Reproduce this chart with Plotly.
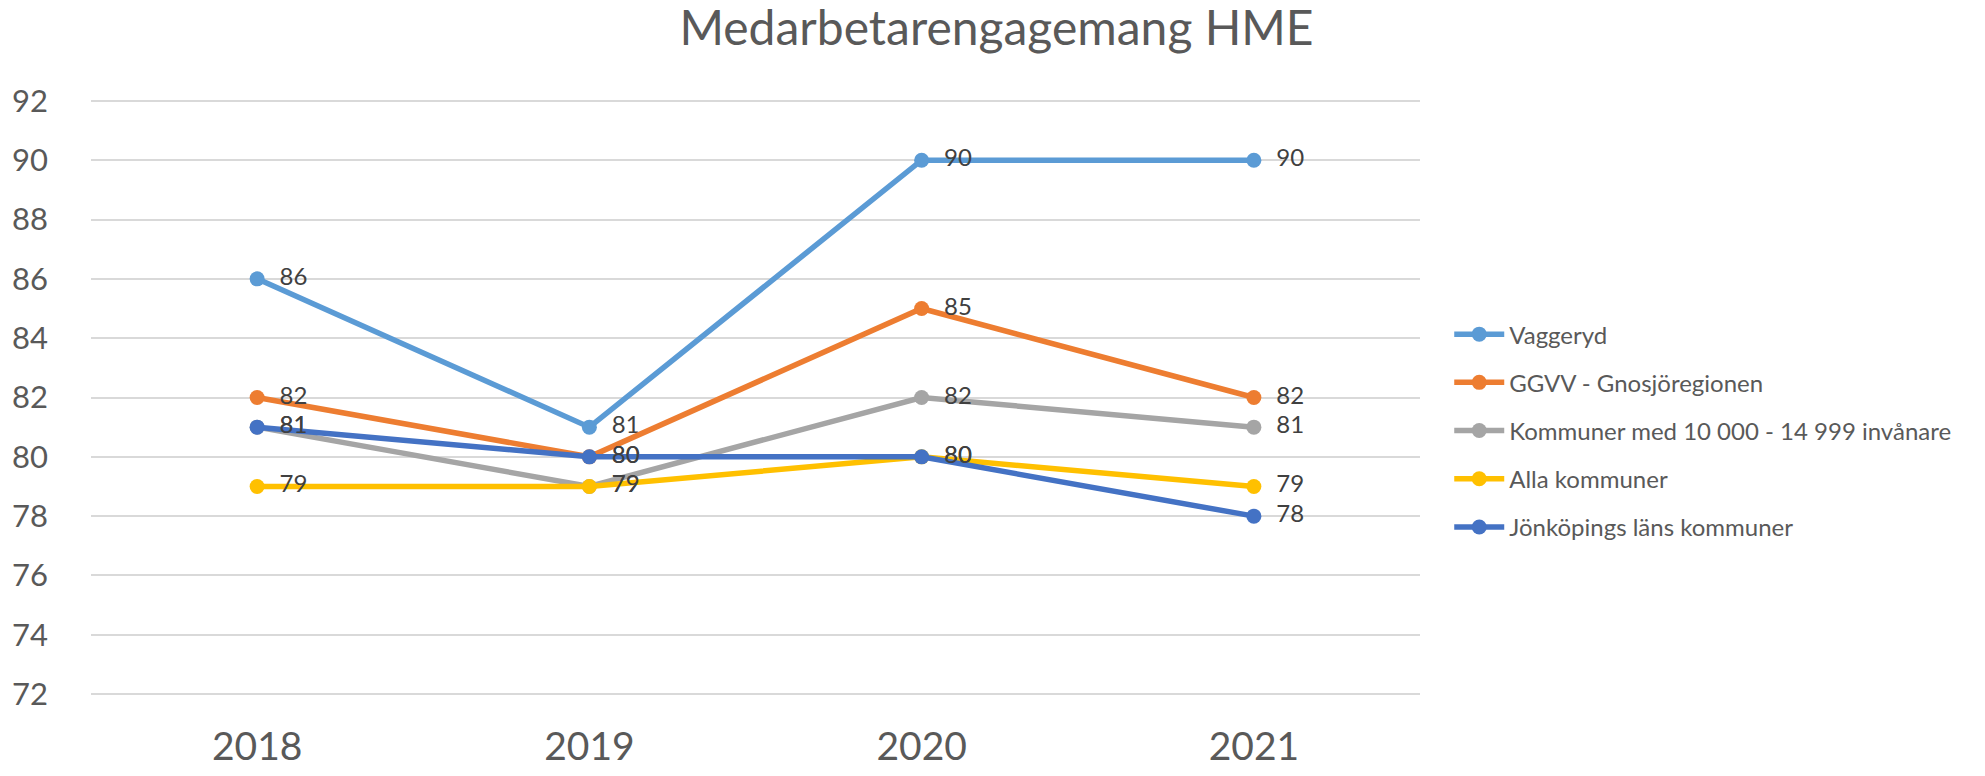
import plotly.graph_objects as go

years = ["2018", "2019", "2020", "2021"]
vaggeryd = [86, 81, 90, 90]
ggvv = [82, 80, 85, 82]
kommuner_10_15 = [81, 79, 82, 81]
alla_kommuner = [79, 79, 80, 79]
jonkoping = [81, 80, 80, 78]

series = [
    ("Vaggeryd", vaggeryd, "#5B9BD5"),
    ("GGVV - Gnosjöregionen", ggvv, "#ED7D31"),
    ("Kommuner med 10 000 - 14 999 invånare", kommuner_10_15, "#A5A5A5"),
    ("Alla kommuner", alla_kommuner, "#FFC000"),
    ("Jönköpings läns kommuner", jonkoping, "#4472C4"),
]

FONT = "Lato, 'Open Sans', sans-serif"

fig = go.Figure()
for i, (name, vals, col) in enumerate(series):
    fig.add_trace(go.Scatter(
        x=years, y=vals, name=name, mode="lines+markers+text",
        line=dict(color=col, width=5.5),
        marker=dict(color=col, size=15),
        text=["\u2002" + str(v) for v in vals], textposition="middle right",
        textfont=dict(size=24, color="#404040", family=FONT),
        legendgroup=f"g{i}",
    ))

fig.update_layout(
    width=1985, height=776,
    paper_bgcolor="white", plot_bgcolor="white",
    margin=dict(l=83, r=573, t=89, b=86),
    font=dict(family=FONT, color="#595959"),
    title=dict(text="Medarbetarengagemang HME", x=0.498, xanchor="center",
               y=0.996, yanchor="top", font=dict(size=48, color="#595959", family=FONT)),
    legend=dict(x=1.022, xanchor="left", y=0.445, yanchor="middle",
                font=dict(size=24, color="#595959", family=FONT),
                tracegroupgap=14, itemwidth=50),
    showlegend=True,
)
fig.update_xaxes(type="category", range=[-0.5, 3.5], showgrid=False, zeroline=False,
                 showline=False, ticks="", tickfont=dict(size=39, color="#595959"),
                 ticklabelstandoff=22, automargin=False)
fig.update_yaxes(range=[71.87, 92.13], dtick=2, tick0=72, showgrid=True, gridcolor="#D9D9D9",
                 gridwidth=1.5, zeroline=False, showline=False, ticks="",
                 tickfont=dict(size=31, color="#595959"), ticklabelstandoff=42,
                 automargin=False)

fig.write_html("out.html")
